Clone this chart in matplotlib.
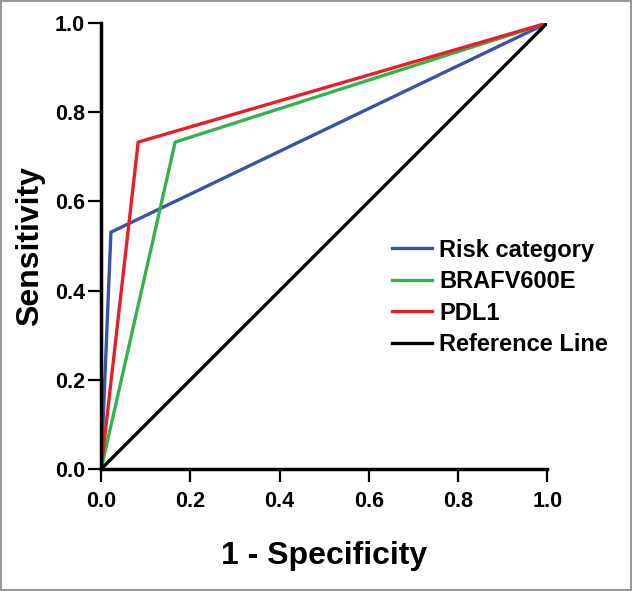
import matplotlib.pyplot as plt
from matplotlib.patches import Rectangle

plt.rcParams['font.family'] = ['Liberation Sans', 'DejaVu Sans']
plt.rcParams['font.weight'] = 'bold'

# ROC-Kurven (1 - Spezifitaet, Sensitivitaet)
risk_x = [0.0, 0.022, 1.0]
risk_y = [0.0, 0.531, 1.0]
braf_x = [0.0, 0.166, 1.0]
braf_y = [0.0, 0.733, 1.0]
pdl1_x = [0.0, 0.083, 1.0]
pdl1_y = [0.0, 0.733, 1.0]
ref_x = [0.0, 1.0]
ref_y = [0.0, 1.0]

ticks = [0.0, 0.2, 0.4, 0.6, 0.8, 1.0]
tick_labels = ['0.0', '0.2', '0.4', '0.6', '0.8', '1.0']

fig = plt.figure(figsize=(6.32, 5.91), dpi=100)
ax = fig.add_axes([0.160, 0.2064, 0.706, 0.7547])

lw = 2.4
ax.plot(risk_x, risk_y, color='#3a52a8', lw=lw, label='Risk category', solid_joinstyle='miter')
ax.plot(braf_x, braf_y, color='#35b34a', lw=lw, label='BRAFV600E', solid_joinstyle='miter')
ax.plot(pdl1_x, pdl1_y, color='#e61f28', lw=lw, label='PDL1', solid_joinstyle='miter')
ax.plot(ref_x, ref_y, color='black', lw=lw, label='Reference Line')

ax.set_xlim(0, 1)
ax.set_ylim(0, 1)
ax.set_xticks(ticks)
ax.set_xticklabels(tick_labels)
ax.set_yticks(ticks)
ax.set_yticklabels(tick_labels)
ax.spines['top'].set_visible(False)
ax.spines['right'].set_visible(False)
ax.spines['left'].set_linewidth(2.5)
ax.spines['bottom'].set_linewidth(2.5)
ax.tick_params(direction='out', color='black', width=1.6, length=9.5, labelsize=15.5)
ax.tick_params(axis='x', pad=6)
ax.tick_params(axis='y', pad=2)

ax.set_xlabel('1 - Specificity', fontsize=23, fontweight='bold', labelpad=21)
ax.set_ylabel('Sensitivity', fontsize=23, fontweight='bold', labelpad=7)

leg = ax.legend(loc='center left', bbox_to_anchor=(0.652, 0.385), frameon=False,
                fontsize=17, handlelength=1.7, handletextpad=0.3, labelspacing=0.36,
                borderpad=0, borderaxespad=0)
for t in leg.get_texts():
    t.set_fontweight('bold')

# grauer Rahmen um das Bild
fig.patches.append(Rectangle((0.001, 0.001), 0.997, 0.997, transform=fig.transFigure,
                             fill=False, edgecolor='#999999', lw=1.5))

fig.savefig('out.png', dpi=100)
